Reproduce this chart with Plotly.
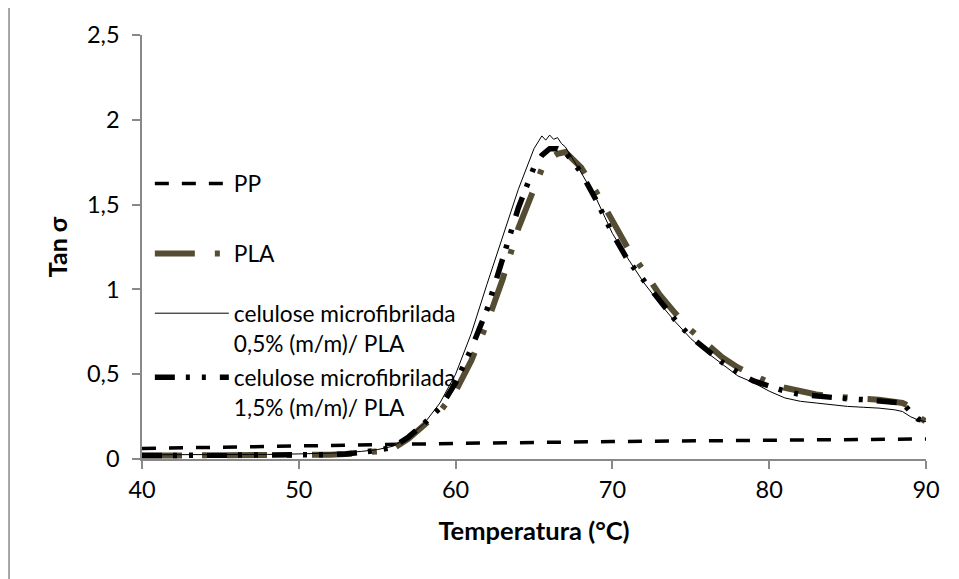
import plotly.graph_objects as go

# ---- data ----
temp_pp = [40, 50, 60, 70, 80, 90]
tan_pp = [0.062, 0.078, 0.092, 0.103, 0.112, 0.118]

temp = [40, 42, 44, 46, 48, 50, 52, 53, 54, 55, 56, 57, 58, 59, 60, 61, 62, 63, 64, 65,
        65.5, 66, 66.5, 67, 68, 69, 70, 71, 72, 73, 74, 75, 76, 77, 78, 79, 80, 81, 82,
        83, 84, 85, 86, 87, 88, 88.5, 89, 89.5, 90]

tan_pla = [0.02, 0.02, 0.02, 0.02, 0.022, 0.023, 0.025, 0.03, 0.035, 0.045, 0.06, 0.12,
           0.20, 0.28, 0.40, 0.58, 0.80, 1.06, 1.36, 1.61, 1.71, 1.77, 1.80, 1.81, 1.72,
           1.57, 1.41, 1.24, 1.11, 0.97, 0.86, 0.76, 0.68, 0.60, 0.54, 0.49, 0.45, 0.42,
           0.40, 0.38, 0.37, 0.36, 0.355, 0.35, 0.34, 0.33, 0.31, 0.25, 0.22]

temp_cel05 = [40, 42, 44, 46, 48, 50, 52, 53, 54, 55, 56, 57, 58, 59, 60, 61, 62, 63, 64,
              65, 65.25, 65.5, 65.75, 66, 66.25, 66.5, 66.75, 67, 68, 69, 70, 71, 72, 73,
              74, 75, 76, 77, 78, 79, 80, 81, 82, 83, 84, 85, 86, 87, 88, 88.5, 89, 89.5, 90]
tan_cel05 = [0.025, 0.025, 0.025, 0.025, 0.027, 0.03, 0.033, 0.037, 0.045, 0.055, 0.075,
             0.13, 0.21, 0.33, 0.50, 0.74, 1.03, 1.31, 1.59, 1.83, 1.87, 1.905, 1.88, 1.91,
             1.885, 1.895, 1.86, 1.84, 1.69, 1.53, 1.33, 1.18, 1.04, 0.92, 0.81, 0.71,
             0.63, 0.56, 0.49, 0.45, 0.40, 0.36, 0.34, 0.33, 0.32, 0.31, 0.305, 0.30,
             0.29, 0.28, 0.25, 0.23, 0.22]

tan_cel15 = [0.02, 0.02, 0.02, 0.02, 0.022, 0.023, 0.026, 0.03, 0.04, 0.05, 0.07, 0.13,
             0.21, 0.30, 0.45, 0.65, 0.88, 1.18, 1.48, 1.72, 1.79, 1.83, 1.83, 1.81, 1.69,
             1.52, 1.33, 1.17, 1.05, 0.93, 0.82, 0.72, 0.64, 0.57, 0.51, 0.46, 0.43, 0.40,
             0.38, 0.37, 0.36, 0.355, 0.35, 0.345, 0.34, 0.33, 0.28, 0.235, 0.225]

names = ["PP", "PLA", "celulose microfibrilada<br>0,5% (m/m)/ PLA",
         "celulose microfibrilada<br>1,5% (m/m)/ PLA"]

x_ticks = [40, 50, 60, 70, 80, 90]
y_ticks = [0, 0.5, 1, 1.5, 2, 2.5]
y_tick_text = ["0", "0,5", "1", "1,5", "2", "2,5"]

FONT = "Lato, Calibri, sans-serif"
OLIVE = "#544D33"
AXIS_GREY = "#898989"

fig = go.Figure()
fig.add_trace(go.Scatter(x=temp_pp, y=tan_pp, mode="lines", name=names[0],
                         line=dict(color="black", width=3.5, dash="14px,13px"),
                         legend="legend"))
fig.add_trace(go.Scatter(x=temp, y=tan_pla, mode="lines", name=names[1],
                         line=dict(color=OLIVE, width=6, dash="40px,20px,5px,20px"),
                         legend="legend2"))
fig.add_trace(go.Scatter(x=temp_cel05, y=tan_cel05, mode="lines", name=names[2],
                         line=dict(color="black", width=1),
                         legend="legend3"))
fig.add_trace(go.Scatter(x=temp, y=tan_cel15, mode="lines", name=names[3],
                         line=dict(color="black", width=5.5,
                                   dash="20px,11px,4px,12px,4px,14px"),
                         legend="legend4"))

leg_common = dict(font=dict(family=FONT, size=22.7, color="black"),
                  bgcolor="rgba(0,0,0,0)", itemwidth=74, valign="top",
                  xanchor="left", yanchor="top")

LEG_X = 0.01

# page body has an 8px margin: figure is 951x571 drawn at (8, 8)
fig.update_layout(
    width=951, height=571,
    margin=dict(l=134, r=33, t=27, b=120),
    showlegend=True,
    paper_bgcolor="white", plot_bgcolor="white",
    separators=",.",
    font=dict(family=FONT, size=23, color="black"),
    xaxis=dict(range=[40, 90], tickvals=x_ticks, showgrid=False, zeroline=False,
               showline=True, linecolor=AXIS_GREY, linewidth=1.5,
               ticks="outside", ticklen=8, tickcolor=AXIS_GREY, tickwidth=1.5,
               tickfont=dict(family=FONT, size=23.5), ticklabelstandoff=1,
               title=dict(text="<b>Temperatura (°C)</b>",
                          font=dict(family=FONT, size=25.5), standoff=20)),
    yaxis=dict(range=[0, 2.5], tickvals=y_ticks, ticktext=y_tick_text, showgrid=False,
               zeroline=False, showline=True, linecolor=AXIS_GREY, linewidth=1.5,
               ticks="outside", ticklen=8, tickcolor=AXIS_GREY, tickwidth=1.5,
               tickfont=dict(family=FONT, size=23.5), ticklabelstandoff=8,
               title=dict(text="<b>Tan σ</b>", font=dict(family=FONT, size=25),
                          standoff=12)),
    legend=dict(x=LEG_X, y=0.700, **leg_common),
    legend2=dict(x=LEG_X, y=0.535, **leg_common),
    legend3=dict(x=LEG_X, y=0.394, **leg_common),
    legend4=dict(x=LEG_X, y=0.243, **leg_common),
    shapes=[dict(type="rect", xref="paper", yref="paper",
                 x0=-0.1696, y0=-0.4, x1=1.1, y1=1.0684,
                 line=dict(color=AXIS_GREY, width=1.5), fillcolor="rgba(0,0,0,0)",
                 layer="below")],
)

fig.write_html("out.html")
